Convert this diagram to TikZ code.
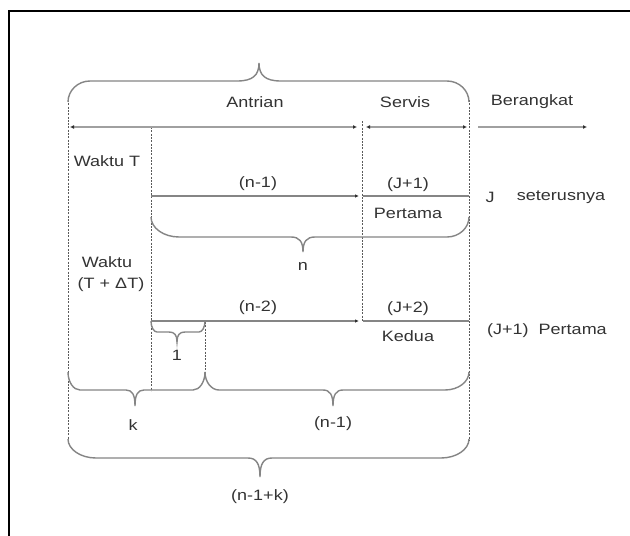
\documentclass[tikz,border=0pt]{standalone}
\usepackage{fontspec}
\setmainfont[FakeStretch=1.2]{Liberation Sans}
\usetikzlibrary{arrows.meta}
\definecolor{txtc}{HTML}{333333}
\definecolor{brcc}{HTML}{858585}
\definecolor{arrc}{HTML}{A0A0A0}
\definecolor{tipc}{HTML}{303030}
\definecolor{dshc}{HTML}{5A5A5A}
\newcommand{\Brc}[9]{\draw[brc] (#1,#3) .. controls (#1,{#4+0.45*(#3-#4)}) and ({#1+0.45*#8},#4) .. ({#1+#8},#4) -- ({#5-#7},#4) .. controls ({#5-0.3*#7},#4) and (#5,{#4+0.3*(#6-#4)}) .. (#5,#6) .. controls (#5,{#4+0.3*(#6-#4)}) and ({#5+0.3*#7},#4) .. ({#5+#7},#4) -- ({#2-#9},#4) .. controls ({#2-0.45*#9},#4) and (#2,{#4+0.45*(#3-#4)}) .. (#2,#3);}
\begin{document}
\begin{tikzpicture}[x=1pt,y=-1pt,
  lbl/.style={text=txtc, font=\fontsize{15}{17}\selectfont, inner sep=0pt, anchor=center},
  brc/.style={draw=brcc, line width=1.4pt},
  toparr/.style={draw=arrc, line width=1.8pt},
  tipR/.style={-{Latex[length=4pt,width=4pt,color=tipc]}},
  tipLR/.style={{Latex[length=4pt,width=4pt,color=tipc]}-{Latex[length=4pt,width=4pt,color=tipc]}},
  rowline/.style={draw=brcc, line width=1.1pt},
  dsh/.style={draw=dshc, line width=1pt, dash pattern=on 2pt off 1.3pt},
  frame/.style={draw=black, line width=1.3pt}]
\useasboundingbox (0,0) rectangle (630,536);
\fill[white] (0,0) rectangle (630,536);
% frame
\coordinate (fa) at (9,536);
\coordinate (fb) at (9,11);
\coordinate (fc) at (630,11);
\draw[frame] (fa) -- (fb) -- (fc);
% dashed verticals
\coordinate (d1a) at (68,100);  \coordinate (d1b) at (68,444);
\coordinate (d2a) at (151,127); \coordinate (d2b) at (151,391);
\coordinate (d3a) at (362,121); \coordinate (d3b) at (362,321);
\coordinate (d4a) at (469,100); \coordinate (d4b) at (469,441);
\coordinate (d5a) at (205,322); \coordinate (d5b) at (205,375);
\draw[dsh] (d1a) -- (d1b);
\draw[dsh] (d2a) -- (d2b);
\draw[dsh] (d3a) -- (d3b);
\draw[dsh] (d4a) -- (d4b);
\draw[dsh] (d5a) -- (d5b);
% top arrows
\coordinate (a1a) at (70,127);  \coordinate (a1b) at (357,127);
\coordinate (a2a) at (366,127); \coordinate (a2b) at (467,127);
\coordinate (a3a) at (478,127); \coordinate (a3b) at (587,127);
\draw[toparr,tipLR] (a1a) -- (a1b);
\draw[toparr,tipLR] (a2a) -- (a2b);
\draw[toparr,tipR] (a3a) -- (a3b);
% row lines
\coordinate (r1a) at (151,196); \coordinate (r1b) at (359,196);
\coordinate (r1c) at (363,196); \coordinate (r1d) at (469,196);
\coordinate (r2a) at (151,321); \coordinate (r2b) at (359,321);
\coordinate (r2c) at (363,321); \coordinate (r2d) at (469,321);
\draw[rowline,-{Latex[length=4pt,width=3.5pt,color=tipc]}] (r1a) -- (r1b);
\draw[rowline] (r1c) -- (r1d);
\draw[rowline,-{Latex[length=4pt,width=3.5pt,color=tipc]}] (r2a) -- (r2b);
\draw[rowline] (r2c) -- (r2d);
% braces
\Brc{68}{469}{102}{81}{259}{63}{22}{22}{22}
\Brc{151}{469}{217}{237}{303}{252}{12}{28}{22}
\Brc{151}{205}{321}{332}{177}{342}{8}{6}{6}
\Brc{68}{205}{372}{390}{135}{406}{9}{12}{12}
\Brc{205}{469}{372}{390}{333}{406}{10}{14}{24}
\Brc{68}{469}{439}{458}{260}{477}{12}{28}{28}
% labels
\node[lbl] (antrian) at (255,102) {Antrian};
\node[lbl] (servis) at (405,102) {Servis};
\node[lbl] (berangkat) at (532,102) {Berangkat};
\node[lbl] (wt) at (107,161) {Waktu T};
\node[lbl] (n1a) at (258,184) {(n-1)};
\node[lbl] (j1) at (408,185) {(J+1)};
\node[lbl] (pert1) at (408,213) {Pertama};
\node[lbl] (jj) at (490,197) {J};
\node[lbl] (seter) at (561,197) {seterusnya};
\node[lbl] (nn) at (303,266) {n};
\node[lbl] (wk) at (107,262) {Waktu};
\node[lbl] (tdt) at (111,285) {(T + ΔT)};
\node[lbl] (n2) at (258,308) {(n-2)};
\node[lbl] (j2) at (408,309) {(J+2)};
\node[lbl] (kedua) at (408,336) {Kedua};
\node[lbl] (j1p) at (547,331) {(J+1)\ \ Pertama};
\node[lbl] (one) at (177,355) {1};
\node[lbl] (kk) at (133,425) {k};
\node[lbl] (n1b) at (333,424) {(n-1)};
\node[lbl] (n1k) at (260,497) {(n-1+k)};
\end{tikzpicture}
\end{document}
